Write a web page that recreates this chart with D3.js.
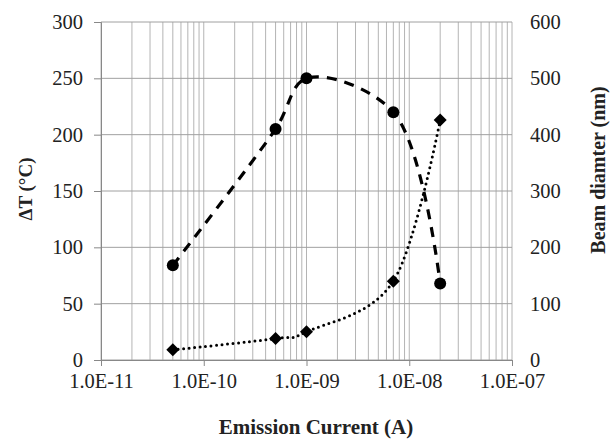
<!DOCTYPE html>
<html><head><meta charset="utf-8">
<script src="https://cdn.jsdelivr.net/npm/d3@7"></script>
<style>body{margin:0;background:#fff}svg{display:block}</style>
</head><body>
<svg id="c" width="611" height="439"></svg>
<script>
const currents = [5e-11, 5e-10, 1e-9, 7e-9, 2e-8];
const deltaT = [84, 205, 250, 220, 68];
const beamDiameter = [18, 38, 50, 140, 426];
const xTicks = [1e-11, 1e-10, 1e-9, 1e-8, 1e-7];
const xTickLabels = ["1.0E-11", "1.0E-10", "1.0E-09", "1.0E-08", "1.0E-07"];
const leftTicks = [0, 50, 100, 150, 200, 250, 300];
const rightTicks = [0, 100, 200, 300, 400, 500, 600];

const FONT = '"Liberation Serif"';
const svg = d3.select("#c");
const L = 101, R = 512, T = 22, B = 360;
const x = d3.scaleLog().domain([1e-11, 1e-7]).range([L, R]);
const yL = d3.scaleLinear().domain([0, 300]).range([B, T]);
const yR = d3.scaleLinear().domain([0, 600]).range([B, T]);

// minor vertical grid
const minor = [];
for (let e = -11; e < -7; e++) for (let m = 1; m <= 9; m++) minor.push(m * Math.pow(10, e));
minor.push(1e-7);
svg.append("g").selectAll("line").data(minor).join("line")
  .attr("x1", d => x(d)).attr("x2", d => x(d)).attr("y1", T).attr("y2", B)
  .attr("stroke", "#b4b4b4").attr("stroke-width", 1);
// horizontal grid
svg.append("g").selectAll("line").data(leftTicks).join("line")
  .attr("x1", L).attr("x2", R).attr("y1", d => yL(d)).attr("y2", d => yL(d))
  .attr("stroke", "#a0a0a0").attr("stroke-width", 1);

// axes
const gx = svg.append("g").attr("transform", `translate(0,${B})`)
  .call(d3.axisBottom(x).tickValues(xTicks).tickFormat((d, i) => xTickLabels[i]).tickSize(6).tickPadding(7));
const gl = svg.append("g").attr("transform", `translate(${L},0)`)
  .call(d3.axisLeft(yL).tickValues(leftTicks).tickSize(7).tickPadding(11));
const gr = svg.append("g").attr("transform", `translate(${R},0)`)
  .call(d3.axisRight(yR).tickValues(rightTicks).tickSize(0).tickPadding(18));
[gx, gl, gr].forEach(g => {
  g.attr("font-family", null).attr("font-size", null);
  g.select(".domain").attr("stroke", "#888");
  g.selectAll(".tick line").attr("stroke", "#888");
  g.selectAll("text").attr("fill", "#222").style("font-family", FONT).style("font-size", "20.5px");
});
gr.select(".domain").remove();

// lines
const lineL = d3.line().x((d, i) => x(currents[i])).y(d => yL(d)).curve(d3.curveCatmullRom.alpha(0.5));
const lineR = d3.line().x((d, i) => x(currents[i])).y(d => yR(d)).curve(d3.curveCardinal.tension(0));
svg.append("path").attr("d", lineL(deltaT)).attr("fill", "none").attr("stroke", "#000")
  .attr("stroke-width", 3.2).attr("stroke-dasharray", "10,8");
svg.append("path").attr("d", lineR(beamDiameter)).attr("fill", "none").attr("stroke", "#000")
  .attr("stroke-width", 3).attr("stroke-linecap", "round").attr("stroke-dasharray", "0,5.5");

// markers
svg.append("g").selectAll("circle").data(deltaT).join("circle")
  .attr("cx", (d, i) => x(currents[i])).attr("cy", d => yL(d)).attr("r", 6).attr("fill", "#000");
svg.append("g").selectAll("path").data(beamDiameter).join("path")
  .attr("transform", (d, i) => `translate(${x(currents[i])},${yR(d)})`)
  .attr("d", "M0,-6.5L6.5,0L0,6.5L-6.5,0Z").attr("fill", "#000");

// titles
svg.append("text").attr("x", 316).attr("y", 434).attr("text-anchor", "middle")
  .style("font-family", FONT).style("font-size", "21px").style("font-weight", "bold")
  .attr("fill", "#222").text("Emission Current (A)");
svg.append("text").attr("transform", `translate(32,189) rotate(-90)`).attr("text-anchor", "middle")
  .style("font-family", FONT).style("font-size", "19px").style("font-weight", "bold")
  .attr("fill", "#222").text("ΔT (°C)");
svg.append("text").attr("transform", `translate(605,170) rotate(-90)`).attr("text-anchor", "middle")
  .style("font-family", FONT).style("font-size", "20px").style("font-weight", "bold")
  .attr("fill", "#222").text("Beam diamter (nm)");
</script>
</body></html>
